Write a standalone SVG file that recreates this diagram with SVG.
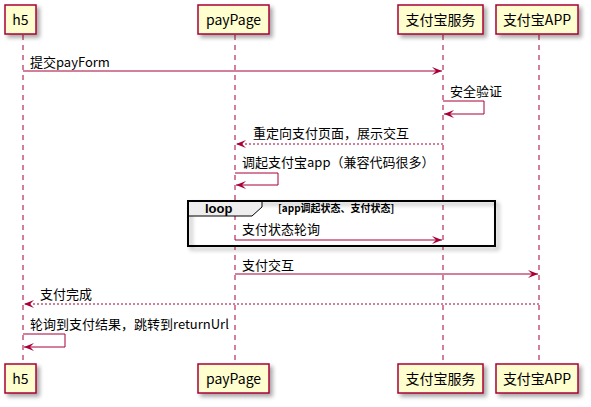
<svg xmlns="http://www.w3.org/2000/svg" width="591" height="407" viewBox="0 0 591 407">
<defs>
<filter id="sh" x="-20%" y="-20%" width="150%" height="150%"><feGaussianBlur in="SourceAlpha" stdDeviation="2"/><feOffset dx="3" dy="3"/><feComponentTransfer><feFuncA type="linear" slope="0.35"/></feComponentTransfer><feMerge><feMergeNode/><feMergeNode in="SourceGraphic"/></feMerge></filter>
<marker id="ah" viewBox="0 0 10 8" refX="10" refY="4" markerWidth="10" markerHeight="8" markerUnits="userSpaceOnUse" orient="auto"><polygon points="0,0 10,4 0,8 4,4" fill="#A80036"/></marker>
</defs>
<style>
.box{fill:#FEFECE;stroke:#A80036;stroke-width:1.5}
.pt{font-family:"Noto Sans CJK SC","Liberation Sans",sans-serif;font-size:14px;fill:#000}
.life{stroke:#A80036;stroke-width:1;stroke-dasharray:5,5}
.msg{stroke:#A80036;stroke-width:1;fill:none}
.dash{stroke-dasharray:2,2}
.mt{font-family:"Noto Sans CJK SC","Liberation Sans",sans-serif;font-size:13px;fill:#000}
</style>
<rect width="591" height="407" fill="#fff"/>
<g id="lifelines">
<line class="life" x1="23" y1="35" x2="23" y2="364"/>
<line class="life" x1="235" y1="35" x2="235" y2="364"/>
<line class="life" x1="443" y1="35" x2="443" y2="364"/>
<line class="life" x1="539" y1="35" x2="539" y2="364"/>
</g>
<g id="loop">
<rect x="188" y="201" width="307" height="45" fill="none" stroke="#000" stroke-width="2" filter="url(#sh)"/>
<polygon points="188,201 262,201 262,207 252,216 188,216" fill="#EEEEEE" stroke="#000" stroke-width="1"/>
<rect x="188" y="201" width="307" height="45" fill="none" stroke="#000" stroke-width="2"/>
<text x="205" y="213" font-family="'Liberation Sans',sans-serif" font-size="13" font-weight="bold">loop</text>
<text x="278" y="212" font-family="'Noto Sans CJK SC','Liberation Sans',sans-serif" font-size="10" font-weight="bold">[app调起状态、支付状态]</text>
</g>
<g id="connectors">
<line class="msg" x1="23" y1="71" x2="442" y2="71" marker-end="url(#ah)"/>
<text class="mt" x="30" y="67">提交payForm</text>
<polyline class="msg" points="443,101 484,101 484,114 444,114" marker-end="url(#ah)"/>
<text class="mt" x="450" y="96">安全验证</text>
<line class="msg dash" x1="443" y1="144" x2="236" y2="144" marker-end="url(#ah)"/>
<text class="mt" x="253" y="138">重定向支付页面，展示交互</text>
<polyline class="msg" points="235,173 278,173 278,185 236,185" marker-end="url(#ah)"/>
<text class="mt" x="242" y="167">调起支付宝app（兼容代码很多）</text>
<line class="msg" x1="235" y1="240" x2="442" y2="240" marker-end="url(#ah)"/>
<text class="mt" x="242" y="234">支付状态轮询</text>
<line class="msg" x1="235" y1="274" x2="538" y2="274" marker-end="url(#ah)"/>
<text class="mt" x="242" y="270">支付交互</text>
<line class="msg dash" x1="539" y1="304" x2="24" y2="304" marker-end="url(#ah)"/>
<text class="mt" x="40" y="299">支付完成</text>
<polyline class="msg" points="23,334 65,334 65,347 24,347" marker-end="url(#ah)"/>
<text class="mt" x="30" y="329">轮询到支付结果，跳转到returnUrl</text>
</g>
<g id="h5">
<rect class="box" x="5" y="5" width="31" height="29" filter="url(#sh)"/>
<text class="pt" x="20.5" y="25" text-anchor="middle">h5</text>
<rect class="box" x="5" y="364" width="31" height="29" filter="url(#sh)"/>
<text class="pt" x="20.5" y="384" text-anchor="middle">h5</text>
</g>
<g id="payPage">
<rect class="box" x="198" y="5" width="71" height="29" filter="url(#sh)"/>
<text class="pt" x="233.5" y="25" text-anchor="middle">payPage</text>
<rect class="box" x="198" y="364" width="71" height="29" filter="url(#sh)"/>
<text class="pt" x="233.5" y="384" text-anchor="middle">payPage</text>
</g>
<g id="alipayService">
<rect class="box" x="398" y="5" width="85" height="29" filter="url(#sh)"/>
<text class="pt" x="440.5" y="25" text-anchor="middle">支付宝服务</text>
<rect class="box" x="398" y="364" width="85" height="29" filter="url(#sh)"/>
<text class="pt" x="440.5" y="384" text-anchor="middle">支付宝服务</text>
</g>
<g id="alipayApp">
<rect class="box" x="496" y="5" width="82" height="29" filter="url(#sh)"/>
<text class="pt" x="537" y="25" text-anchor="middle">支付宝APP</text>
<rect class="box" x="496" y="364" width="82" height="29" filter="url(#sh)"/>
<text class="pt" x="537" y="384" text-anchor="middle">支付宝APP</text>
</g>
</svg>
